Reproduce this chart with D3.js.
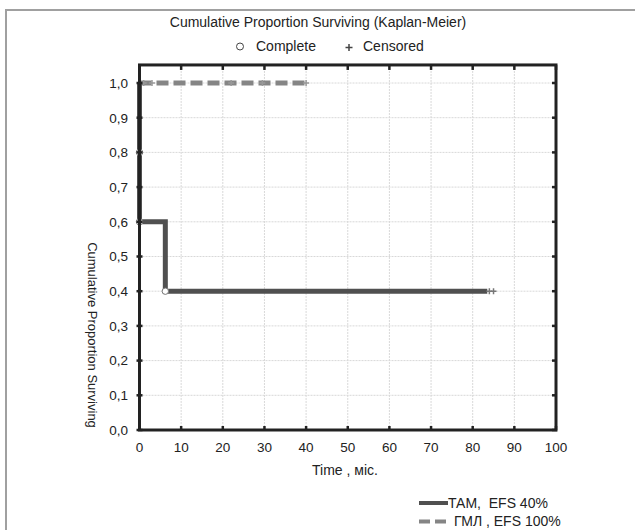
<!DOCTYPE html>
<html><head><meta charset="utf-8">
<script src="https://cdn.jsdelivr.net/npm/d3@7"></script>
<style>body{margin:0;background:#fff}svg{display:block;font-family:"Liberation Sans",Arial,sans-serif}text{white-space:pre}</style>
</head><body><svg id="c" width="635" height="530"></svg>
<script>
const xTicks = [0,10,20,30,40,50,60,70,80,90,100];
const yTicks = [0,0.1,0.2,0.3,0.4,0.5,0.6,0.7,0.8,0.9,1.0];
// ТАМ step curve: [time, survival]
const tamSteps = [[0,1.0],[0,0.8],[0,0.6],[6.2,0.6],[6.2,0.4],[83.5,0.4]];
const tamComplete = [[0,0.8],[0,0.6],[6.2,0.4]];
const tamCensored = [[84,0.4],[85,0.4]];
const gmlSteps = [[0,1.0],[40.5,1.0]];
const gmlCensored = [[1,1.0],[3,1.0],[22,1.0],[29.5,1.0],[40,1.0]];
const legendLabels = ["ТАМ,  EFS 40%","ГМЛ , EFS 100%"];

const svg = d3.select("#c");
const x = d3.scaleLinear().domain([0,100]).range([139.5,556]);
const y = d3.scaleLinear().domain([0,1]).range([430,83]);
const yTop = y(1.052);

// outer border
svg.append("path").attr("d","M6,530 V10 H635").attr("fill","none").attr("stroke","#a0a0a0").attr("stroke-width",2);

// grid
const g = svg.append("g");
g.selectAll(".gx").data(xTicks.slice(1,-1)).join("line")
 .attr("x1",d=>x(d)).attr("x2",d=>x(d)).attr("y1",yTop).attr("y2",y(0))
 .attr("stroke","#d8d8d8").attr("stroke-dasharray","2,1");
g.selectAll(".gy").data(yTicks.slice(1)).join("line")
 .attr("y1",d=>y(d)).attr("y2",d=>y(d)).attr("x1",x(0)).attr("x2",x(100))
 .attr("stroke","#d8d8d8").attr("stroke-dasharray","2,1");

// curves
const line = d3.line().x(d=>x(d[0])).y(d=>y(d[1]));
svg.append("path").attr("d",line(gmlSteps)).attr("fill","none").attr("stroke","#858585")
 .attr("stroke-width",5).attr("stroke-dasharray","12,5");
svg.append("path").attr("d",line(tamSteps)).attr("fill","none").attr("stroke","#505050")
 .attr("stroke-width",5).attr("stroke-linejoin","miter");

// censored marks
function plus(sel,data,col){
  sel.selectAll(null).data(data).join("path")
   .attr("d",d=>`M${x(d[0])-3},${y(d[1])}h6M${x(d[0])},${y(d[1])-3}v6`)
   .attr("stroke",col).attr("stroke-width",1.5).attr("fill","none");
}
plus(svg.append("g"),gmlCensored,"#999");
plus(svg.append("g"),tamCensored,"#777");
svg.append("g").selectAll("circle").data(tamComplete).join("circle")
 .attr("cx",d=>x(d[0])).attr("cy",d=>y(d[1])).attr("r",3.2)
 .attr("fill","#fff").attr("stroke","#777").attr("stroke-width",1);

// frame
svg.append("rect").attr("x",x(0)).attr("y",yTop).attr("width",x(100)-x(0)).attr("height",y(0)-yTop)
 .attr("fill","none").attr("stroke","#222").attr("stroke-width",3);

// ticks
const tk = svg.append("g").attr("stroke","#222").attr("stroke-width",2.5);
tk.selectAll(".tb").data(xTicks).join("line").attr("x1",d=>x(d)).attr("x2",d=>x(d)).attr("y1",y(0)).attr("y2",y(0)-4);
tk.selectAll(".tt").data(xTicks).join("line").attr("x1",d=>x(d)).attr("x2",d=>x(d)).attr("y1",yTop).attr("y2",yTop+5);
tk.selectAll(".tl").data(yTicks).join("line").attr("y1",d=>y(d)).attr("y2",d=>y(d)).attr("x1",x(0)-3).attr("x2",x(0)+3);
tk.selectAll(".tr").data(yTicks).join("line").attr("y1",d=>y(d)).attr("y2",d=>y(d)).attr("x1",x(100)-4).attr("x2",x(100)+1);

// tick labels
const fmt = d=>d3.format(".1f")(d).replace(".",",");
svg.append("g").selectAll("text").data(yTicks).join("text")
 .attr("x",128).attr("y",d=>y(d)).attr("dy","0.36em").attr("text-anchor","end")
 .attr("font-size",13.5).attr("fill","#222").text(fmt);
svg.append("g").selectAll("text").data(xTicks).join("text")
 .attr("x",d=>x(d)).attr("y",452).attr("text-anchor","middle")
 .attr("font-size",13.5).attr("fill","#222").text(d=>d);

// axis titles
svg.append("text").attr("x",345).attr("y",475).attr("text-anchor","middle").attr("font-size",14).attr("fill","#222").text("Time , міс.");
svg.append("text").attr("transform","translate(88,335) rotate(90)").attr("text-anchor","middle").attr("font-size",13).attr("fill","#222").text("Cumulative Proportion Surviving");

// title & marker legend
svg.append("text").attr("x",318).attr("y",27).attr("text-anchor","middle").attr("font-size",14).attr("fill","#222").text("Cumulative Proportion Surviving (Kaplan-Meier)");
svg.append("circle").attr("cx",240).attr("cy",46.5).attr("r",3.5).attr("fill","#fff").attr("stroke","#444");
svg.append("text").attr("x",256).attr("y",51).attr("font-size",14).attr("fill","#222").text("Complete");
svg.append("path").attr("d","M345.5,47.5h7M349,44v7").attr("stroke","#444").attr("stroke-width",1.5);
svg.append("text").attr("x",363).attr("y",51).attr("font-size",14).attr("fill","#222").text("Censored");

// bottom legend
svg.append("line").attr("x1",419).attr("x2",448).attr("y1",503).attr("y2",503).attr("stroke","#505050").attr("stroke-width",4);
svg.append("text").attr("x",448).attr("y",508).attr("font-size",14).attr("fill","#222").text(legendLabels[0]);
svg.append("line").attr("x1",419).attr("x2",448).attr("y1",521.5).attr("y2",521.5).attr("stroke","#858585").attr("stroke-width",4).attr("stroke-dasharray","11,5");
svg.append("text").attr("x",454).attr("y",526).attr("font-size",14).attr("fill","#222").text(legendLabels[1]);
</script></body></html>
